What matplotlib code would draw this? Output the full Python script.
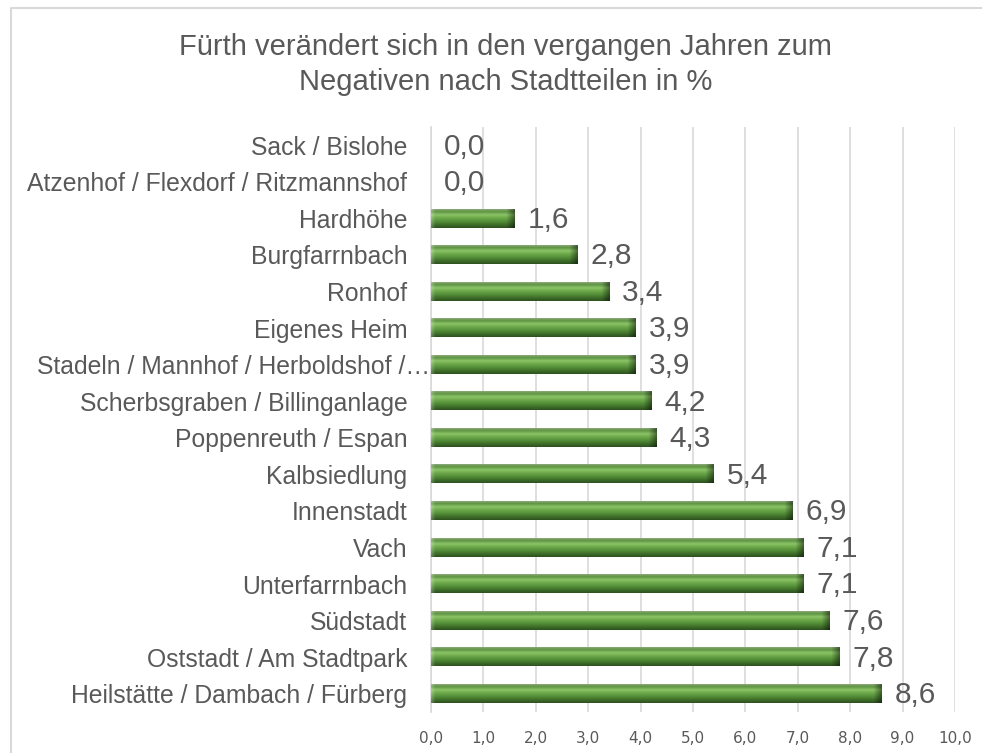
import numpy as np
import matplotlib.pyplot as plt
from matplotlib.colors import LinearSegmentedColormap
from matplotlib.lines import Line2D
import matplotlib.transforms as mtransforms

plt.rcParams['font.family'] = ['Liberation Sans', 'DejaVu Sans']

stadtteile = [
    "Sack / Bislohe",
    "Atzenhof / Flexdorf / Ritzmannshof",
    "Hardhöhe",
    "Burgfarrnbach",
    "Ronhof",
    "Eigenes Heim",
    "Stadeln / Mannhof / Herboldshof /…",
    "Scherbsgraben / Billinganlage",
    "Poppenreuth / Espan",
    "Kalbsiedlung",
    "Innenstadt",
    "Vach",
    "Unterfarrnbach",
    "Südstadt",
    "Oststadt / Am Stadtpark",
    "Heilstätte / Dambach / Fürberg",
]
werte = [0.0, 0.0, 1.6, 2.8, 3.4, 3.9, 3.9, 4.2, 4.3, 5.4, 6.9, 7.1, 7.1, 7.6, 7.8, 8.6]
x_ticks = np.arange(0, 11, 1)

grau = '#595959'
gitter = '#d9d9d9'

fig = plt.figure(figsize=(9.82, 7.53), dpi=100)
ax = fig.add_axes([0.4389, 0.0544, 0.5336, 0.777])

# zylinder-gradient (oben -> unten)
zyl = LinearSegmentedColormap.from_list('zyl', [
    (0.0, '#8aa878'), (0.12, '#5e9442'), (0.3, '#8cc468'), (0.42, '#74b050'),
    (0.65, '#548f38'), (0.85, '#3d6c29'), (1.0, '#2e5220')])

n = len(stadtteile)
ypos = np.arange(n)[::-1]
h = 0.5
px_per_unit = 52.4

for y, v in zip(ypos, werte):
    if v > 0:
        ncol = max(int(v * px_per_unit), 2)
        rows = np.linspace(0, 1, 40)
        img = zyl(rows)[:, None, :3].repeat(ncol, axis=1)
        # dunkles ende rechts, helle kante links
        cols = np.arange(ncol)
        cap = np.clip((cols - (ncol - 9)) / 8.0, 0, 1)
        img = img * (1 - 0.45 * cap)[None, :, None]
        left = np.clip(1 - cols / 4.0, 0, 1)
        img = img + (1 - img) * (0.25 * left)[None, :, None]
        ax.imshow(img, extent=(0, v, y - h / 2, y + h / 2), origin='upper',
                  aspect='auto', interpolation='bilinear', zorder=3)
    ax.annotate(f"{v:.1f}".replace('.', ','), xy=(v, y), xytext=(9.5, -1),
                textcoords='offset points', va='center', ha='left',
                fontsize=21.5, color=grau, zorder=4)

ax.set_xlim(0, 10)
ax.set_ylim(-0.5, n - 0.5)
ax.set_xticks(x_ticks)
ax.set_xticklabels([f"{t:.1f}".replace('.', ',') for t in x_ticks],
                   fontsize=11, color=grau, family='DejaVu Sans')
ax.set_yticks(ypos)
ax.set_yticklabels(stadtteile, fontsize=17.8, color=grau)
ax.tick_params(axis='both', length=0)
ax.tick_params(axis='y', pad=17)
ax.tick_params(axis='x', pad=14)
ax.grid(axis='x', color=gitter, linewidth=1.2, zorder=0)
ax.set_axisbelow(True)
for s in ['top', 'right', 'bottom']:
    ax.spines[s].set_visible(False)
ax.spines['left'].set_color(gitter)
ax.spines['left'].set_linewidth(1.2)

# abgeschnittenes label ragt weiter nach rechts
lab = ax.get_yticklabels()[6]
lab.set_transform(lab.get_transform() + mtransforms.ScaledTranslation(0.23, 0, fig.dpi_scale_trans))

fig.text(0.515, 0.9143, "Fürth verändert sich in den vergangen Jahren zum\nNegativen nach Stadtteilen in %",
         ha='center', va='center', fontsize=21, color=grau, linespacing=1.32)

# rahmen
fig.add_artist(Line2D([11 / 982, 11 / 982, 1], [0, 1 - 8 / 753, 1 - 8 / 753],
                      transform=fig.transFigure, color=gitter, linewidth=1.5))

fig.savefig('out.png', dpi=100)
